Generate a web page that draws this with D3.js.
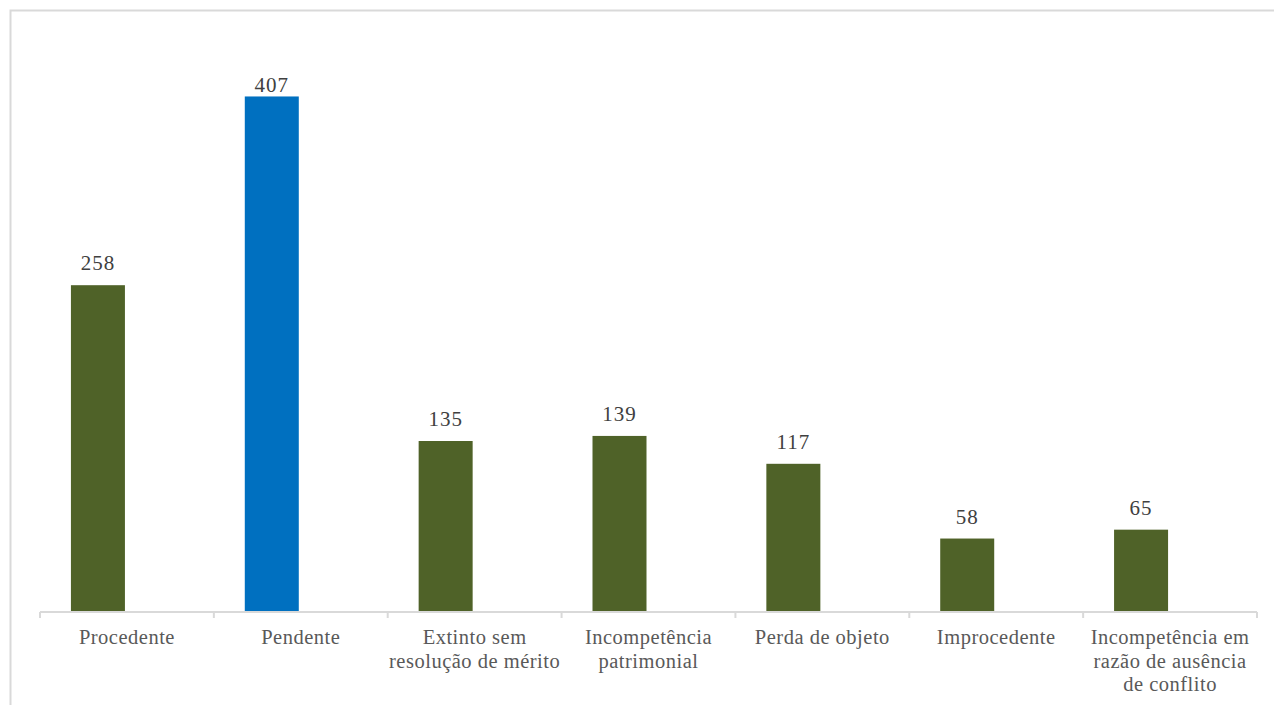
<!DOCTYPE html>
<html>
<head>
<meta charset="utf-8">
<script src="https://cdn.jsdelivr.net/npm/d3@7"></script>
<style>
  body { margin: 0; background: #fff; }
</style>
</head>
<body>
<script>
// canvas size
var width = 1274
var height = 705

// chart data
const categories = ["Procedente", "Pendente", "Extinto sem resolução de mérito", "Incompetência patrimonial",
    "Perda de objeto", "Improcedente", "Incompetência em razão de ausência de conflito"]
const values = [258, 407, 135, 139, 117, 58, 65]
// tick labels as they wrap in the picture
const tickLines = [["Procedente"], ["Pendente"], ["Extinto sem", "resolução de mérito"], ["Incompetência", "patrimonial"],
    ["Perda de objeto"], ["Improcedente"], ["Incompetência em", "razão de ausência", "de conflito"]]
const highlight = "Pendente"

const data = categories.map((c, i) => ({ cat: c, value: values[i], lines: tickLines[i] }))

const svg = d3.select("body").append("svg")
    .attr("width", width)
    .attr("height", height)

// chart border (right and bottom edges fall off the picture)
svg.append("rect")
    .attr("x", 10.5).attr("y", 10.5)
    .attr("width", 1290).attr("height", 720)
    .attr("fill", "none")
    .attr("stroke", "#d9d9d9")
    .attr("stroke-width", 2)

const margin = { left: 40, right: 17, top: 42, bottom: 93 }
const baseY = height - margin.bottom

const xScale = d3.scaleBand()
    .domain(categories)
    .range([margin.left, width - margin.right])

const yScale = d3.scaleLinear()
    .domain([0, 450])
    .range([baseY, margin.top])

const font = "'Liberation Serif', 'Times New Roman', serif"
const barW = 54
const barShift = -29 // bars sit left of the band centre, as in the original

// bars
svg.append("g").selectAll("rect")
    .data(data)
    .enter()
    .append("rect")
    .attr("x", d => xScale(d.cat) + xScale.bandwidth() / 2 + barShift - barW / 2)
    .attr("y", d => yScale(d.value))
    .attr("width", barW)
    .attr("height", d => baseY - yScale(d.value))
    .attr("fill", d => d.cat === highlight ? "#0070c0" : "#4f6228")

// value labels
svg.append("g").selectAll("text")
    .data(data)
    .enter()
    .append("text")
    .attr("x", d => xScale(d.cat) + xScale.bandwidth() / 2 + barShift)
    .attr("y", d => Math.max(yScale(d.value) - 15, 92))
    .attr("text-anchor", "middle")
    .attr("font-family", font)
    .attr("font-size", "21px")
    .attr("letter-spacing", "1px")
    .attr("fill", "#404040")
    .text(d => d.value)

// x axis: line plus ticks at band edges
const axis = svg.append("g")
axis.append("line")
    .attr("x1", margin.left).attr("x2", width - margin.right)
    .attr("y1", baseY).attr("y2", baseY)
    .attr("stroke", "#d9d9d9").attr("stroke-width", 2)
const edges = categories.map(c => xScale(c)).concat([width - margin.right])
axis.selectAll(".tick")
    .data(edges)
    .enter()
    .append("line")
    .attr("x1", d => d).attr("x2", d => d)
    .attr("y1", baseY).attr("y2", baseY + 6)
    .attr("stroke", "#d9d9d9").attr("stroke-width", 2)

// category labels
const labels = svg.append("g").selectAll("text")
    .data(data)
    .enter()
    .append("text")
    .attr("text-anchor", "middle")
    .attr("font-family", font)
    .attr("font-size", "20.5px")
    .attr("letter-spacing", "0.5px")
    .attr("fill", "#595959")
    .attr("x", d => xScale(d.cat) + xScale.bandwidth() / 2)
    .attr("y", baseY + 32)
labels.selectAll("tspan")
    .data(d => d.lines.map(l => ({ l: l, x: xScale(d.cat) + xScale.bandwidth() / 2 })))
    .enter()
    .append("tspan")
    .attr("x", t => t.x)
    .attr("dy", (t, i) => i === 0 ? 0 : 23.5)
    .text(t => t.l)
</script>
</body>
</html>
